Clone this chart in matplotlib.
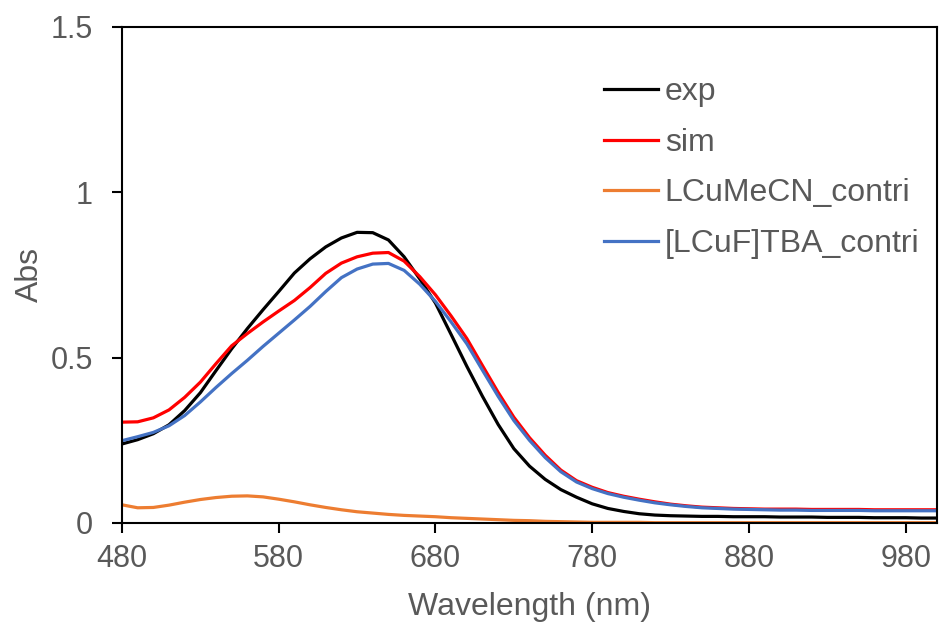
import matplotlib
matplotlib.use("Agg")
import matplotlib.pyplot as plt
from matplotlib.ticker import FixedLocator

plt.rcParams['font.family'] = ['Liberation Sans', 'DejaVu Sans']

wavelength = list(range(480, 1001, 10))

exp_abs = [0.239, 0.252, 0.270, 0.297, 0.340, 0.394, 0.461, 0.527, 0.588, 0.645,
           0.700, 0.756, 0.799, 0.835, 0.862, 0.879, 0.878, 0.856, 0.805, 0.738,
           0.665, 0.570, 0.474, 0.383, 0.298, 0.225, 0.172, 0.132, 0.101, 0.078,
           0.058, 0.044, 0.035, 0.028, 0.024, 0.022, 0.021, 0.020, 0.020, 0.019,
           0.019, 0.019, 0.018, 0.018, 0.018, 0.017, 0.017, 0.017, 0.016, 0.016,
           0.016, 0.015, 0.015]

sim_abs = [0.305, 0.306, 0.318, 0.342, 0.380, 0.426, 0.482, 0.536, 0.573, 0.608,
           0.641, 0.673, 0.712, 0.755, 0.786, 0.805, 0.816, 0.818, 0.792, 0.745,
           0.690, 0.626, 0.558, 0.476, 0.395, 0.320, 0.258, 0.205, 0.160, 0.128,
           0.108, 0.092, 0.081, 0.072, 0.064, 0.057, 0.052, 0.048, 0.046, 0.044,
           0.043, 0.042, 0.042, 0.042, 0.041, 0.041, 0.041, 0.041, 0.040, 0.040,
           0.040, 0.040, 0.040]

lcumecn_abs = [0.055, 0.046, 0.047, 0.054, 0.063, 0.071, 0.077, 0.081, 0.082, 0.079,
               0.072, 0.064, 0.055, 0.047, 0.040, 0.034, 0.030, 0.026, 0.023, 0.021,
               0.019, 0.016, 0.014, 0.012, 0.010, 0.008, 0.007, 0.005, 0.004, 0.003,
               0.002, 0.002, 0.002, 0.002, 0.001, 0.001, 0.001, 0.001, 0.001, 0.001,
               0.001, 0.001, 0.001, 0.001, 0.001, 0.001, 0.001, 0.001, 0.001, 0.001,
               0.001, 0.001, 0.001]

lcuf_abs = [0.249, 0.261, 0.274, 0.294, 0.325, 0.366, 0.410, 0.452, 0.492, 0.534,
            0.574, 0.614, 0.655, 0.700, 0.742, 0.768, 0.783, 0.785, 0.764, 0.722,
            0.670, 0.608, 0.542, 0.462, 0.383, 0.310, 0.250, 0.198, 0.155, 0.124,
            0.104, 0.089, 0.078, 0.069, 0.061, 0.055, 0.050, 0.046, 0.044, 0.042,
            0.041, 0.040, 0.039, 0.039, 0.038, 0.038, 0.038, 0.038, 0.037, 0.037,
            0.037, 0.037, 0.037]

x_ticks = [480, 580, 680, 780, 880, 980]
y_ticks = [0, 0.5, 1, 1.5]
y_tick_labels = ["0", "0.5", "1", "1.5"]

text_color = "#595959"

fig = plt.figure(figsize=(9.42, 6.25), dpi=100)
ax = fig.add_axes([0.1295, 0.1632, 0.8652, 0.7936])

ax.plot(wavelength, exp_abs, color="#000000", lw=2.3, label="exp")
ax.plot(wavelength, sim_abs, color="#FF0000", lw=2.3, label="sim")
ax.plot(wavelength, lcumecn_abs, color="#ED7D31", lw=2.3, label="LCuMeCN_contri")
ax.plot(wavelength, lcuf_abs, color="#4472C4", lw=2.3, label="[LCuF]TBA_contri")

ax.set_xlim(480, 1000)
ax.set_ylim(0, 1.5)
ax.xaxis.set_major_locator(FixedLocator(x_ticks))
ax.set_yticks(y_ticks)
ax.set_yticklabels(y_tick_labels)

for side in ["left", "bottom", "top", "right"]:
    ax.spines[side].set_linewidth(1.5)
    ax.spines[side].set_color("black")

ax.tick_params(axis="both", direction="out", length=7, width=1.5, color="black",
               labelcolor=text_color, labelsize=22)
ax.tick_params(axis="y", pad=14)
ax.tick_params(axis="x", pad=8)

ax.set_xlabel("Wavelength (nm)", fontsize=23, color=text_color, labelpad=13)
ax.set_ylabel("Abs", fontsize=23, color=text_color, labelpad=4)

leg = ax.legend(loc="upper right", bbox_to_anchor=(0.994, 0.924), frameon=False,
                fontsize=23, handlelength=1.7, handletextpad=0.2,
                labelspacing=0.64, borderaxespad=0.0)
for t in leg.get_texts():
    t.set_color(text_color)

fig.savefig("out.png", dpi=100)
